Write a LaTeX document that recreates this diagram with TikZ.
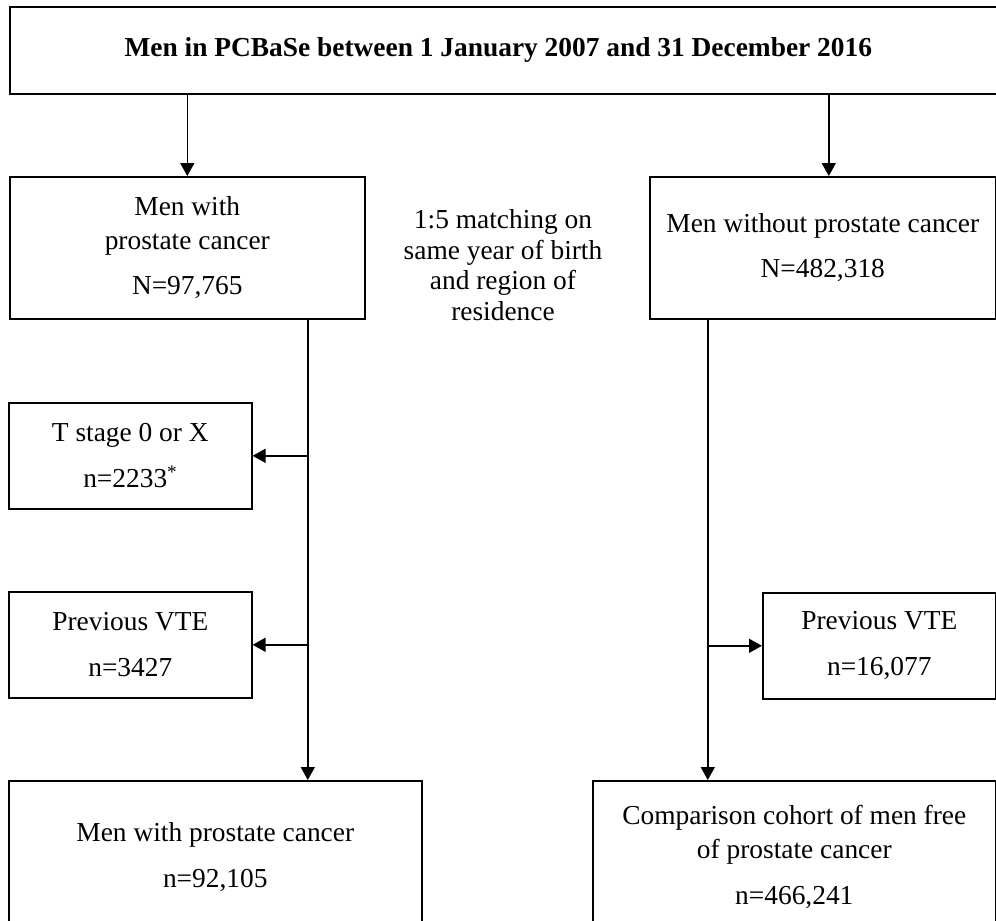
\documentclass[tikz,border=0pt]{standalone}
\usepackage{fontspec}
\setmainfont{Liberation Serif}
\usetikzlibrary{arrows.meta,positioning,calc}

\begin{document}
\begin{tikzpicture}[x=1pt,y=-1pt,>={Triangle[length=13pt,width=14pt]},line width=1.6pt,
  font=\fontsize{27.4}{34}\selectfont,
  box/.style={draw,inner sep=0pt,align=center,anchor=north west}]
  \useasboundingbox (0,0) rectangle (996,921);
  \clip (0,0) rectangle (996,921);
  % cohort selection
  \node[box,minimum width=991,minimum height=87] (pop) at (9,6) {\textbf{Men in PCBaSe between 1 January 2007 and 31 December 2016}\hspace*{14pt}};
  \node[box,minimum width=355,minimum height=142] (pca) at (9,176) {Men with\\prostate cancer\\[11pt]N=97,765};
  \node[box,minimum width=346,minimum height=142] (ctl) at (649,176) {Men without prostate cancer\\[11pt]N=482,318};
  \node[align=center,font=\fontsize{27.4}{30.5}\selectfont] (match) at (503,265) {1:5 matching on\\same year of birth\\and region of\\residence};
  % exclusions
  \node[box,minimum width=243,minimum height=106] (tstage) at (8,402) {T stage 0 or X\\[12pt]n=2233\textsuperscript{*}};
  \node[box,minimum width=243,minimum height=106] (vte1) at (8,591) {Previous VTE\\[12pt]n=3427};
  \node[box,minimum width=233,minimum height=106] (vte2) at (762,592) {Previous VTE\\[12pt]n=16,077};
  % final cohorts
  \node[box,minimum width=413,minimum height=152] (pcaf) at (8,780) {Men with prostate cancer\\[12pt]n=92,105};
  \node[box,minimum width=403,minimum height=152] (ctlf) at (592,780) {Comparison cohort of men free\\of prostate cancer\\[12pt]n=466,241};
  \coordinate (lspine) at ([xshift=120.5pt]pca.south);
  \coordinate (rspine) at ([xshift=-115pt]ctl.south);
  \coordinate (rdrop) at ([xshift=6pt]ctl.north);
  \draw[->] (pop.south -| pca.north) -- (pca.north);
  \draw[->] (pop.south -| rdrop) -- (rdrop);
  \draw[->] (lspine |- tstage.east) -- (tstage.east);
  \draw[->] (lspine |- vte1.east) -- (vte1.east);
  \draw[->] (lspine) -- (lspine |- pcaf.north);
  \draw[->] (rspine |- vte2.west) -- (vte2.west);
  \draw[->] (rspine) -- (rspine |- ctlf.north);
\end{tikzpicture}
\end{document}
